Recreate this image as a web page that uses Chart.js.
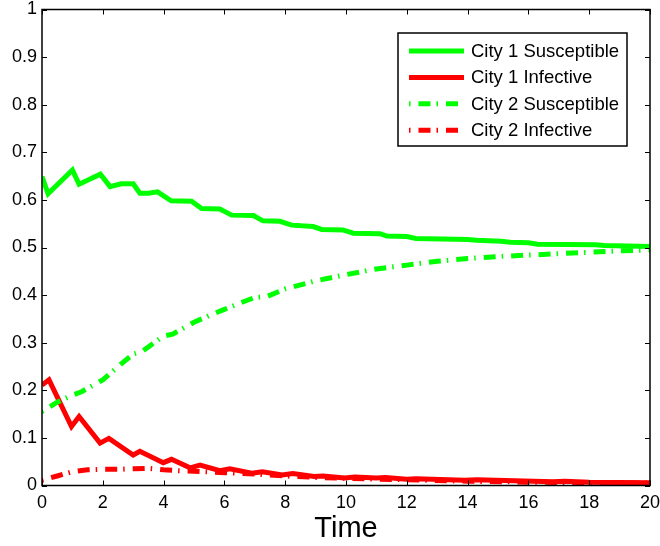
<!DOCTYPE html>
<html>
<head>
<meta charset="utf-8">
<title>City 1 / City 2</title>
<script src="https://cdn.jsdelivr.net/npm/chart.js@4.4.1/dist/chart.umd.min.js"></script>
<style>
  html, body { margin: 0; padding: 0; background: #fff; }
</style>
</head>
<body>
<canvas id="myChart" width="660" height="546"></canvas>
<script>
// Cidade 1 - suscetíveis
const tempoS1 = [0, 0.2, 1.0, 1.22, 1.92, 2.24, 2.6, 3.0, 3.22, 3.5, 3.8, 4.25, 4.92, 5.25, 5.85, 6.24, 6.95, 7.27, 7.83, 8.21, 8.92, 9.2, 9.9, 10.24, 11.12, 11.34, 12.0, 12.3, 14.0, 14.3, 15.1, 15.4, 16.0, 16.3, 18.2, 18.5, 20];
const cidade1Suscetiveis = [0.649, 0.613, 0.663, 0.633, 0.654, 0.628, 0.634, 0.634, 0.614, 0.614, 0.617, 0.598, 0.597, 0.582, 0.581, 0.568, 0.567, 0.556, 0.555, 0.547, 0.544, 0.538, 0.537, 0.530, 0.529, 0.524, 0.523, 0.519, 0.517, 0.515, 0.513, 0.511, 0.510, 0.507, 0.506, 0.504, 0.502];

// Cidade 1 - infectivos
const tempoI1 = [0, 0.23, 0.97, 1.22, 1.91, 2.2, 3.0, 3.22, 3.99, 4.26, 4.87, 5.2, 5.85, 6.18, 6.9, 7.25, 7.9, 8.25, 8.95, 9.25, 9.95, 10.3, 11.0, 11.3, 12.0, 12.3, 13.9, 14.3, 16.8, 17.2, 18, 20];
const cidade1Infectivos = [0.211, 0.222, 0.124, 0.145, 0.089, 0.099, 0.064, 0.072, 0.048, 0.055, 0.037, 0.043, 0.031, 0.035, 0.026, 0.029, 0.022, 0.025, 0.019, 0.020, 0.016, 0.018, 0.016, 0.017, 0.013, 0.014, 0.011, 0.012, 0.008, 0.009, 0.007, 0.006];

// Cidade 2 - suscetíveis
const tempoS2 = [0, 0.5, 1.0, 1.3, 2.0, 2.5, 3.0, 3.3, 4.0, 4.3, 5.0, 5.5, 6.0, 6.5, 7.0, 7.4, 8.0, 9.0, 10.0, 11.0, 12.0, 13.0, 14.0, 15.0, 16.0, 17.0, 18.0, 19.0, 20];
const cidade2Suscetiveis = [0.155, 0.175, 0.19, 0.197, 0.222, 0.25, 0.276, 0.282, 0.314, 0.318, 0.343, 0.357, 0.37, 0.383, 0.395, 0.397, 0.413, 0.43, 0.443, 0.455, 0.463, 0.471, 0.477, 0.481, 0.484, 0.487, 0.49, 0.493, 0.495];

// Cidade 2 - infectivos
const tempoI2 = [0, 0.5, 1.0, 1.5, 2.0, 2.5, 3.0, 3.5, 4.0, 4.5, 5.0, 6.0, 7.0, 8.0, 9.0, 10, 12, 14, 16, 18, 20];
const cidade2Infectivos = [0.011, 0.02, 0.029, 0.033, 0.034, 0.034, 0.035, 0.036, 0.033, 0.031, 0.03, 0.027, 0.024, 0.02, 0.017, 0.015, 0.012, 0.009, 0.007, 0.006, 0.005];

// Rótulos dos eixos
const rotulosX = ['0', '2', '4', '6', '8', '10', '12', '14', '16', '18', '20'];
const rotulosY = ['0', '0.1', '0.2', '0.3', '0.4', '0.5', '0.6', '0.7', '0.8', '0.9', '1'];
const nomesSeries = ['City 1 Susceptible', 'City 1 Infective', 'City 2 Susceptible', 'City 2 Infective'];

const fonte = '"Liberation Sans", Arial, Helvetica, sans-serif';
const verde = '#00ff00';
const vermelho = '#ff0000';
const tracoPonto = [1.5, 8, 12, 6]; // ponto-traço

function pontos(tempos, valores) {
    return tempos.map((t, i) => ({ x: t, y: valores[i] }));
}

// Moldura com marcas para dentro nos quatro lados
const moldura = {
    id: 'moldura',
    afterDraw(chart) {
        const { ctx, chartArea: a, scales: { x, y } } = chart;
        const tam = 5;
        ctx.save();
        ctx.strokeStyle = '#000';
        ctx.lineWidth = 1;
        ctx.beginPath();
        x.ticks.forEach(t => {
            const px = Math.round(x.getPixelForValue(t.value)) + 0.5;
            ctx.moveTo(px, a.bottom); ctx.lineTo(px, a.bottom - tam);
            ctx.moveTo(px, a.top); ctx.lineTo(px, a.top + tam);
        });
        y.ticks.forEach(t => {
            const py = Math.round(y.getPixelForValue(t.value)) + 0.5;
            ctx.moveTo(a.left, py); ctx.lineTo(a.left + tam, py);
            ctx.moveTo(a.right, py); ctx.lineTo(a.right - tam, py);
        });
        ctx.stroke();
        ctx.lineWidth = 1.5;
        ctx.strokeRect(a.left, a.top, a.right - a.left, a.bottom - a.top);
        ctx.restore();
    }
};

// Legenda em caixa no canto superior direito
const legenda = {
    id: 'legenda',
    afterDraw(chart) {
        const { ctx } = chart;
        const caixa = { x: 398, y: 33, w: 229, h: 113 };
        ctx.save();
        ctx.fillStyle = '#fff';
        ctx.fillRect(caixa.x, caixa.y, caixa.w, caixa.h);
        ctx.strokeStyle = '#000';
        ctx.lineWidth = 1.5;
        ctx.strokeRect(caixa.x, caixa.y, caixa.w, caixa.h);
        chart.data.datasets.forEach((ds, i) => {
            const yy = 51 + i * 26.4;
            ctx.beginPath();
            ctx.strokeStyle = ds.borderColor;
            ctx.lineWidth = 5;
            ctx.lineCap = 'butt';
            ctx.setLineDash(ds.borderDash || []);
            ctx.moveTo(409, yy);
            ctx.lineTo(464, yy);
            ctx.stroke();
            ctx.setLineDash([]);
            ctx.fillStyle = '#000';
            ctx.font = '18.5px ' + fonte;
            ctx.textBaseline = 'middle';
            ctx.textAlign = 'left';
            ctx.fillText(ds.label, 471, yy + 1);
        });
        ctx.restore();
    }
};

const ctx = document.getElementById('myChart').getContext('2d');
const myChart = new Chart(ctx, {
    type: 'line',
    data: {
        datasets: [{
            label: nomesSeries[0],
            data: pontos(tempoS1, cidade1Suscetiveis),
            borderColor: verde,
            borderDash: [],
            order: 3
        }, {
            label: nomesSeries[1],
            data: pontos(tempoI1, cidade1Infectivos),
            borderColor: vermelho,
            borderDash: [],
            order: 2
        }, {
            label: nomesSeries[2],
            data: pontos(tempoS2, cidade2Suscetiveis),
            borderColor: verde,
            borderDash: tracoPonto,
            order: 1
        }, {
            label: nomesSeries[3],
            data: pontos(tempoI2, cidade2Infectivos),
            borderColor: vermelho,
            borderDash: tracoPonto,
            order: 0
        }]
    },
    options: {
        responsive: false,
        animation: false,
        devicePixelRatio: 1,
        layout: {
            padding: { top: 9.5, right: 10, bottom: 0, left: 0 }
        },
        elements: {
            point: { radius: 0 },
            line: {
                borderWidth: 5,
                tension: 0,
                fill: false,
                borderCapStyle: 'butt',
                borderJoinStyle: 'miter'
            }
        },
        plugins: {
            legend: { display: false },
            tooltip: { enabled: false }
        },
        scales: {
            x: {
                type: 'linear',
                min: 0,
                max: 20,
                grid: { display: false, drawTicks: false },
                border: { display: false },
                ticks: {
                    stepSize: 2,
                    padding: 7,
                    color: '#000',
                    maxRotation: 0,
                    autoSkip: false,
                    font: { family: fonte, size: 18 },
                    callback: (v, i) => rotulosX[i]
                },
                title: {
                    display: true,
                    text: 'Time',
                    color: '#000',
                    padding: 0,
                    font: { family: fonte, size: 29 }
                },
                afterFit: (s) => {
                    s.height = 60.5;
                    s.paddingLeft = 0;
                    s.paddingRight = 0;
                }
            },
            y: {
                type: 'linear',
                min: 0,
                max: 1,
                grid: { display: false, drawTicks: false },
                border: { display: false },
                ticks: {
                    stepSize: 0.1,
                    padding: 5,
                    color: '#000',
                    font: { family: fonte, size: 18 },
                    callback: (v, i) => rotulosY[i]
                },
                afterFit: (s) => {
                    s.width = 42;
                    s.paddingTop = 0;
                    s.paddingBottom = 0;
                }
            }
        }
    },
    plugins: [moldura, legenda]
});
</script>
</body>
</html>
